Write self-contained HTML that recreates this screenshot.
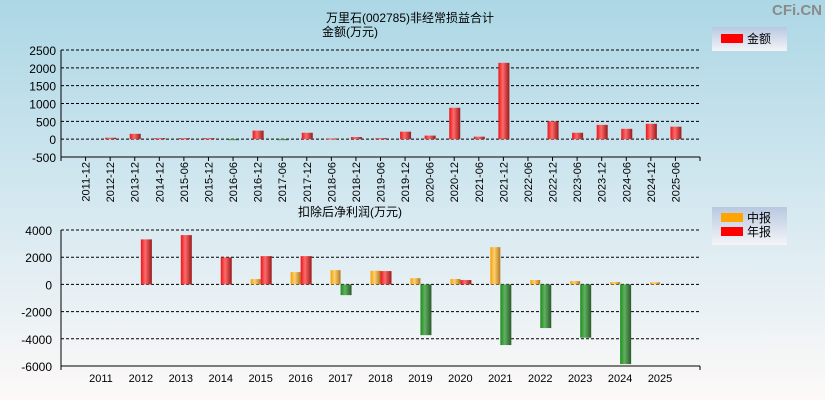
<!DOCTYPE html>
<html><head><meta charset="utf-8">
<style>
html,body{margin:0;padding:0}
body{width:825px;height:400px;overflow:hidden;font-family:"Liberation Sans","Noto Sans CJK SC",sans-serif;}
svg{display:block}
</style></head>
<body>
<svg id="c" width="825" height="400" xmlns="http://www.w3.org/2000/svg" font-family="Liberation Sans, Noto Sans CJK SC, sans-serif">
<defs>
<linearGradient id="bg" x1="0" y1="0" x2="0" y2="1">
<stop offset="0" stop-color="#acd7e5"/><stop offset="0.5" stop-color="#d4e8f0"/><stop offset="1" stop-color="#fdf9f8"/>
</linearGradient>
<linearGradient id="gr" x1="0" y1="0" x2="1" y2="0">
<stop offset="0" stop-color="#e8161c"/><stop offset="0.4" stop-color="#ff6a6a"/><stop offset="1" stop-color="#9a1a1a"/></linearGradient>
<linearGradient id="gg" x1="0" y1="0" x2="1" y2="0">
<stop offset="0" stop-color="#1e8c1e"/><stop offset="0.4" stop-color="#60b060"/><stop offset="1" stop-color="#2a5a2a"/></linearGradient>
<linearGradient id="go" x1="0" y1="0" x2="1" y2="0">
<stop offset="0" stop-color="#f5a000"/><stop offset="0.4" stop-color="#ffd070"/><stop offset="1" stop-color="#b07a20"/></linearGradient>
<linearGradient id="lg" x1="0" y1="0" x2="0" y2="1">
<stop offset="0" stop-color="#b8c8e0"/><stop offset="1" stop-color="#f4f4f8"/></linearGradient>
</defs>
<rect width="825" height="400" fill="url(#bg)"/>
<text x="822" y="15" text-anchor="end" font-size="15" font-weight="bold" fill="#8a8a8a">CFi.CN</text>
<text x="410" y="22" text-anchor="middle" font-size="12">万里石(002785)非经常损益合计</text>
<text x="350" y="36" text-anchor="middle" font-size="12">金额(万元)</text>
<text x="350" y="216" text-anchor="middle" font-size="12">扣除后净利润(万元)</text>
<g>
<rect x="712" y="27" width="75" height="24" fill="url(#lg)"/>
<rect x="721" y="34" width="22" height="9" fill="#ff0000"/>
<text x="747" y="43" font-size="12">金额</text>
</g>
<g>
<rect x="712" y="207" width="75" height="38" fill="url(#lg)"/>
<rect x="721" y="213" width="22" height="9" fill="#ffa500"/>
<text x="747" y="222" font-size="12">中报</text>
<rect x="721" y="227" width="22" height="9" fill="#ff0000"/>
<text x="747" y="236" font-size="12">年报</text>
</g>
<g id="top"></g>
<g id="bot"></g>
</svg>
<script>
const topCats=["2011-12","2012-12","2013-12","2014-12","2015-06","2015-12","2016-06","2016-12","2017-06","2017-12","2018-06","2018-12","2019-06","2019-12","2020-06","2020-12","2021-06","2021-12","2022-06","2022-12","2023-06","2023-12","2024-06","2024-12","2025-06"];
const topVals=[0,40,150,30,30,30,-20,240,-20,180,20,60,30,210,100,880,70,2140,0,500,180,400,290,430,350];
const topTicks=[2500,2000,1500,1000,500,0,-500];
const botCats=["2011","2012","2013","2014","2015","2016","2017","2018","2019","2020","2021","2022","2023","2024","2025"];
const botInterim=[null,null,null,null,390,905,1050,1000,460,400,2740,320,240,170,150];
const botAnnual=[null,3310,3625,1985,2080,2080,-790,980,-3730,320,-4460,-3210,-3920,-5860,null];
const botTicks=[4000,2000,0,-2000,-4000,-6000];

const NS="http://www.w3.org/2000/svg";
function mk(p,tag,at){const e=document.createElementNS(NS,tag);for(const k in at)e.setAttribute(k,at[k]);p.appendChild(e);return e;}

// top chart
const T=document.getElementById('top');
const tx0=61,tx1=700,tyTop=50,tyBot=157,tmax=2500,tmin=-500;
const ty=v=>tyTop+(tmax-v)/(tmax-tmin)*(tyBot-tyTop);
const tband=(tx1-tx0)/(topCats.length+1);
const tcx=i=>tx0+tband*(i+1);
topTicks.forEach(v=>{
 if(v>tmin){const l=mk(T,'line',{x1:tx0,x2:tx1,y1:ty(v),y2:ty(v),stroke:'#000','stroke-dasharray':'3,2','stroke-width':1});
 }
 const t=mk(T,'text',{x:tx0-5,y:ty(v)+5,'text-anchor':'end','font-size':12});t.textContent=v;
 
});
mk(T,'line',{x1:tx0,x2:tx0,y1:tyTop,y2:tyBot,stroke:'#000'});
mk(T,'line',{x1:tx0,x2:tx1,y1:tyBot,y2:tyBot,stroke:'#000'});
mk(T,'line',{x1:tx0,x2:tx0,y1:tyBot,y2:tyBot+4,stroke:'#000'});
mk(T,'line',{x1:tx1,x2:tx1,y1:tyBot,y2:tyBot+4,stroke:'#000'});
topCats.forEach((c,i)=>{
 const x=tcx(i);
 mk(T,'line',{x1:x,x2:x,y1:tyBot,y2:tyBot+4,stroke:'#000'});
 const t=mk(T,'text',{x:0,y:0,'text-anchor':'end','font-size':11,transform:`translate(${x+4},${tyBot+5}) rotate(-90)`});
 t.textContent=c;
 
 const v=topVals[i];
 if(v!==0){const y0=ty(0),y1=ty(v);
  const r=mk(T,'rect',{x:x-5,y:Math.min(y0,y1),width:11,height:Math.max(1,Math.abs(y1-y0)),fill:v>=0?'url(#gr)':'url(#gg)'});
  }
});

// bottom chart
const B=document.getElementById('bot');
const bx0=61,bx1=700,byTop=230,byBot=366,bmax=4000,bmin=-6000;
const by=v=>byTop+(bmax-v)/(bmax-bmin)*(byBot-byTop);
const bband=(bx1-bx0)/(botCats.length+1);
const bcx=i=>bx0+bband*(i+1);
botTicks.forEach(v=>{
 if(v>bmin){const l=mk(B,'line',{x1:bx0,x2:bx1,y1:by(v),y2:by(v),stroke:'#000','stroke-dasharray':'3,2'});
 }
 const t=mk(B,'text',{x:bx0-9,y:by(v)+5,'text-anchor':'end','font-size':12});t.textContent=v;
 
});
mk(B,'line',{x1:bx0,x2:bx0,y1:byTop,y2:byBot,stroke:'#000'});
mk(B,'line',{x1:bx0,x2:bx1,y1:byBot,y2:byBot,stroke:'#000'});
mk(B,'line',{x1:bx0,x2:bx0,y1:byBot,y2:byBot+4,stroke:'#000'});
mk(B,'line',{x1:bx1,x2:bx1,y1:byBot,y2:byBot+4,stroke:'#000'});
botCats.forEach((c,i)=>{
 const x=bcx(i);
 const t=mk(B,'text',{x:x,y:byBot+16,'text-anchor':'middle','font-size':11});t.textContent=c;
 
 const y0=by(0);
 const vi=botInterim[i];
 if(vi!==null){const y1=by(vi);
  const r=mk(B,'rect',{x:x-10,y:Math.min(y0,y1),width:10,height:Math.max(1,Math.abs(y1-y0)),fill:vi>=0?'url(#go)':'url(#gg)'});
  }
 const va=botAnnual[i];
 if(va!==null){const y1=by(va);
  const r=mk(B,'rect',{x:x,y:Math.min(y0,y1),width:11,height:Math.max(1,Math.abs(y1-y0)),fill:va>=0?'url(#gr)':'url(#gg)'});
  }
});
</script>
</body></html>
